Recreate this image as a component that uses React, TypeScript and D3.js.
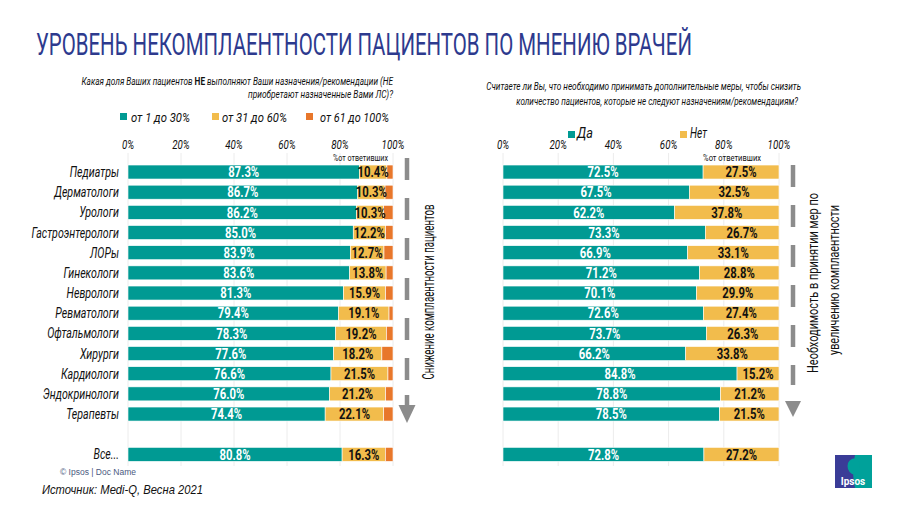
import React from "react";
import * as d3 from "d3";

// ---------- data ----------
const categories = [
  "Педиатры",
  "Дерматологи",
  "Урологи",
  "Гастроэнтерологи",
  "ЛОРы",
  "Гинекологи",
  "Неврологи",
  "Ревматологи",
  "Офтальмологи",
  "Хирурги",
  "Кардиологи",
  "Эндокринологи",
  "Терапевты",
];
const totalLabel = "Все...";
const lowShare = [87.3, 86.7, 86.2, 85.0, 83.9, 83.6, 81.3, 79.4, 78.3, 77.6, 76.6, 76.0, 74.4, 80.8];
const midShare = [10.4, 10.3, 10.3, 12.2, 12.7, 13.8, 15.9, 19.1, 19.2, 18.2, 21.5, 21.2, 22.1, 16.3];
const highShare = [2.3, 3.0, 3.5, 2.8, 3.4, 2.6, 2.8, 1.5, 2.5, 4.2, 1.9, 2.8, 3.5, 2.9];
const yesShare = [72.5, 67.5, 62.2, 73.3, 66.9, 71.2, 70.1, 72.6, 73.7, 66.2, 84.8, 78.8, 78.5, 72.8];
const noShare = [27.5, 32.5, 37.8, 26.7, 33.1, 28.8, 29.9, 27.4, 26.3, 33.8, 15.2, 21.2, 21.5, 27.2];
const tickValues = [0, 20, 40, 60, 80, 100];
const legendLeft = ["от 1 до  30%", "от 31 до 60%", "от 61 до 100%"];
const legendRight = ["Да", "Нет"];

// ---------- style ----------
const TEAL = "#009a93";
const YELLOW = "#f2bc4c";
const ORANGE = "#e8772b";
const GREY = "#8c8c8c";
const BLUE = "#2d3a8e";
const GRID = "#ececec";
const FONT = "Roboto, 'Noto Sans', 'DejaVu Sans', sans-serif";
const SX = 0.78;

type CTProps = {
  x: number;
  y: number;
  size: number;
  anchor?: "start" | "middle" | "end";
  weight?: number | string;
  italic?: boolean;
  fill?: string;
  sx?: number;
  rotate?: number;
  len?: number;
  family?: string;
  children: React.ReactNode;
};

function CT({ x, y, size, anchor = "start", weight = 400, italic = false, fill = "#111", sx = SX, rotate = 0, len, family = FONT, children }: CTProps) {
  const ref = React.useRef<SVGTextElement>(null);
  const [k, setK] = React.useState<number>(len ? 1 : sx);
  React.useLayoutEffect(() => {
    if (len && ref.current) {
      const w = ref.current.getComputedTextLength();
      if (w > 0) setK(len / w);
    }
  }, [len]);
  const tr = `translate(${x},${y})${rotate ? ` rotate(${rotate})` : ""} scale(${k},1)`;
  return (
    <text
      ref={ref}
      transform={tr}
      textAnchor={anchor}
      fontFamily={family}
      fontSize={size}
      fontWeight={weight}
      fontStyle={italic ? "italic" : "normal"}
      fill={fill}
    >
      {children}
    </text>
  );
}

const rowKeys = [...categories, "__gap", totalLabel];
const dataRows = [...categories, totalLabel];

export default function App() {
  React.useEffect(() => {
    document.body.style.margin = "0";
  }, []);

  const y = d3.scaleBand<string>().domain(rowKeys).range([162, 464.4]).paddingInner(0.306).paddingOuter(0.15);
  const xL = d3.scaleLinear().domain([0, 100]).range([128, 393]);
  const xR = d3.scaleLinear().domain([0, 100]).range([503, 779]);
  const bw = y.bandwidth();
  const gridTop = 153;
  const gridBottom = 466;

  type Series = { vals: number[]; color: string; text: string | null };
  const leftSeries: Series[] = [
    { vals: lowShare, color: TEAL, text: "#fff" },
    { vals: midShare, color: YELLOW, text: "#111" },
    { vals: highShare, color: ORANGE, text: null },
  ];
  const rightSeries: Series[] = [
    { vals: yesShare, color: TEAL, text: "#fff" },
    { vals: noShare, color: YELLOW, text: "#111" },
  ];

  const stackRows = (series: Series[], x: d3.ScaleLinear<number, number>) =>
    dataRows.map((cat, i) => {
      const y0 = y(cat)!;
      const segs: { a: number; v: number; s: Series }[] = [];
      let acc = 0;
      series.forEach((s) => {
        segs.push({ a: acc, v: s.vals[i], s });
        acc += s.vals[i];
      });
      return (
        <g key={cat}>
          {segs.map(({ a, v, s }, k) => (
            <rect
              key={k}
              x={x(a)}
              y={y0}
              width={x(a + v) - x(a)}
              height={bw}
              fill={s.color}
              stroke="#fff"
              strokeWidth={0.6}
            />
          ))}
          {segs.map(({ a, v, s }, k) =>
            s.text ? (
              <CT key={"t" + k} x={x(a + v / 2)} y={y0 + bw / 2 + 5.2} size={14.5} weight={700} anchor="middle" fill={s.text}>
                {v.toFixed(1) + "%"}
              </CT>
            ) : null
          )}
        </g>
      );
    });

  const grid = (x: d3.ScaleLinear<number, number>) =>
    tickValues.map((t) => (
      <line key={t} x1={x(t)} x2={x(t)} y1={gridTop} y2={gridBottom} stroke={GRID} strokeWidth={1} />
    ));

  const ticks = (x: d3.ScaleLinear<number, number>) =>
    tickValues.map((t) => (
      <CT key={t} x={x(t)} y={149} size={12.5} italic anchor="middle">
        {t + "%"}
      </CT>
    ));

  const arrow = (cx: number, dashTop: number, dashBottom: number, stemTop: number | null, headTop: number, headBottom: number, headW: number) => (
    <g>
      <line x1={cx} x2={cx} y1={dashTop} y2={dashBottom} stroke={GREY} strokeWidth={4.5} strokeDasharray="22 18" />
      {stemTop !== null && <rect x={cx - 2.25} y={stemTop} width={4.5} height={headTop - stemTop + 1} fill={GREY} />}
      <path d={`M${cx - headW / 2},${headTop} L${cx + headW / 2},${headTop} L${cx},${headBottom} Z`} fill={GREY} />
    </g>
  );

  return (
    <svg width={900} height={506} style={{ display: "block", background: "#fff" }}>
      {/* title */}
      <CT x={36} y={55} size={31} weight={400} fill={BLUE} len={656}>
        УРОВЕНЬ НЕКОМПЛАЕНТНОСТИ ПАЦИЕНТОВ ПО МНЕНИЮ ВРАЧЕЙ
      </CT>

      {/* left question */}
      <CT x={393} y={85} size={11} italic anchor="end" len={312}>
        Какая доля Ваших пациентов <tspan fontWeight={700} fontStyle="normal">НЕ</tspan> выполняют Ваши назначения/рекомендации (НЕ
      </CT>
      <CT x={393} y={98} size={11} italic anchor="end" len={145}>
        приобретают назначенные Вами ЛС)?
      </CT>

      {/* left legend */}
      {legendLeft.map((l, i) => {
        const lx = [120, 212, 306][i];
        const tx = [131, 222, 320][i];
        const w = [59, 65, 69][i];
        const c = [TEAL, YELLOW, ORANGE][i];
        return (
          <g key={l}>
            <rect x={lx} y={113} width={7} height={7} fill={c} />
            <CT x={tx} y={122} size={13} italic len={w}>
              {l}
            </CT>
          </g>
        );
      })}

      {/* right question */}
      <CT x={801} y={90} size={11} italic anchor="end" len={315}>
        Считаете ли Вы, что необходимо принимать дополнительные меры, чтобы снизить
      </CT>
      <CT x={798} y={105} size={11} italic anchor="end" len={282}>
        количество пациентов, которые не следуют назначениям/рекомендациям?
      </CT>

      {/* right legend */}
      {legendRight.map((l, i) => {
        const lx = [568, 680][i];
        const tx = [577, 690][i];
        const w = [16, 17][i];
        const c = [TEAL, YELLOW][i];
        return (
          <g key={l}>
            <rect x={lx} y={131} width={7} height={7} fill={c} />
            <CT x={tx} y={138} size={14} italic len={w}>
              {l}
            </CT>
          </g>
        );
      })}

      {/* grids */}
      {grid(xL)}
      {grid(xR)}
      {ticks(xL)}
      {ticks(xR)}

      <CT x={388} y={161} size={9} anchor="end" len={55}>
        %от ответивших
      </CT>
      <CT x={761} y={161} size={9} anchor="end" len={58}>
        %от ответивших
      </CT>

      {/* category labels */}
      {dataRows.map((c) => (
        <CT key={c} x={119} y={y(c)! + bw / 2 + 5} size={14} italic anchor="end" sx={0.76}>
          {c}
        </CT>
      ))}

      {/* bars */}
      {stackRows(leftSeries, xL)}
      {stackRows(rightSeries, xR)}

      {/* arrows */}
      {arrow(407, 158, 380, 395, 405, 423, 17)}
      {arrow(793, 165, 385, null, 401, 417, 16)}

      {/* rotated labels */}
      <CT x={434} y={292} size={16} rotate={-90} anchor="middle" len={175}>
        Снижение комплаентности пациентов
      </CT>
      <CT x={818} y={283} size={15} rotate={-90} anchor="middle" len={180}>
        Необходимость в принятии мер по
      </CT>
      <CT x={839} y={280} size={15} rotate={-90} anchor="middle" len={150}>
        увеличению комплаентности
      </CT>

      {/* footer */}
      <text x={60} y={475} fontFamily="'Liberation Sans', Arial, sans-serif" fontSize={8.5} fill="#4a5a80">
        © Ipsos | Doc Name
      </text>
      <CT x={42} y={494} size={12} italic len={161} family="'Liberation Sans', Arial, sans-serif">
        Источник: Medi-Q, Весна 2021
      </CT>

      {/* logo */}
      <g>
        <rect x={835} y={455} width={37} height={33} fill="#00a19a" />
        <path d="M835,455 L855,455 Q851,471 855,488 L835,488 Z" fill="#3a3c97" />
        <path d="M852,474 Q846,470 848,463 Q851,457 857,459 Q861,462 859,467 L860,471 Q856,472 856,475 Z" fill="#00a19a" />
        <text x={853} y={485} textAnchor="middle" fontFamily={FONT} fontWeight={700} fontSize={10} fill="#fff">
          Ipsos
        </text>
      </g>
    </svg>
  );
}
